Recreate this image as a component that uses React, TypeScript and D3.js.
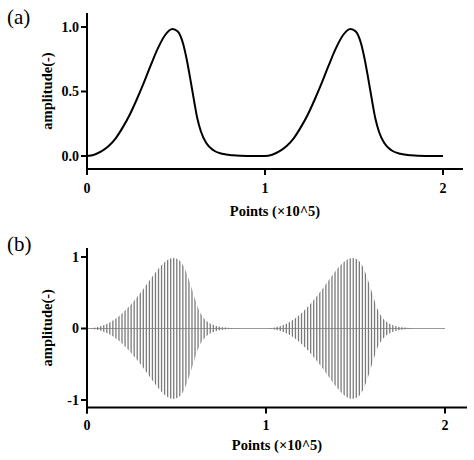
import React from 'react';
import * as d3 from 'd3';

// envelope, x in units of 10^5 points
const pointsX = [
  0, 0.04, 0.08, 0.12, 0.16, 0.2, 0.24, 0.28, 0.32, 0.36, 0.4, 0.44, 0.48, 0.51, 0.54, 0.56, 0.58, 0.6, 0.62, 0.64, 0.67, 0.71, 0.76, 0.82, 0.9, 1.0,
  1.04, 1.08, 1.12, 1.16, 1.2, 1.24, 1.28, 1.32, 1.36, 1.4, 1.44, 1.48, 1.51, 1.54, 1.56, 1.58, 1.6, 1.62, 1.64, 1.67, 1.71, 1.76, 1.82, 1.9, 2.0,
];
const amplitude = [
  0, 0.01, 0.035, 0.075, 0.135, 0.22, 0.32, 0.44, 0.57, 0.71, 0.84, 0.94, 0.985, 0.965, 0.87, 0.75, 0.6, 0.44, 0.29, 0.19, 0.1, 0.045, 0.017, 0.005, 0, 0,
  0.01, 0.035, 0.075, 0.135, 0.22, 0.32, 0.44, 0.57, 0.71, 0.84, 0.94, 0.985, 0.965, 0.87, 0.75, 0.6, 0.44, 0.29, 0.19, 0.1, 0.045, 0.017, 0.005, 0, 0,
];

// carrier period of panel (b), in 10^5 points
const carrierStep = 0.017;

const xTicks = [0, 1, 2];
const xTickLabels = ['0', '1', '2'];
const yTicksA = [0, 0.5, 1];
const yTickLabelsA = ['0.0', '0.5', '1.0'];
const yTicksB = [-1, 0, 1];
const yTickLabelsB = ['-1', '0', '1'];

const xTitle = 'Points (\u00d710^5)';
const yTitle = 'amplitude(-)';

const font = '"Liberation Serif", "DejaVu Serif", serif';

type Pt = { x: number; a: number };
const data: Pt[] = pointsX.map((x, i) => ({ x, a: amplitude[i] }));

interface AxesProps {
  x: d3.ScaleLinear<number, number>;
  y: d3.ScaleLinear<number, number>;
  xAxisY: number;
  xAxisEnd: number;
  yAxisTop: number;
  yTicks: number[];
  yLabels: string[];
  labelY: number;
  titleY: number;
}

function Axes({ x, y, xAxisY, xAxisEnd, yAxisTop, yTicks, yLabels, labelY, titleY }: AxesProps) {
  const x0 = x(0);
  const midY = (yAxisTop + xAxisY) / 2;
  return (
    <g style={{ fontFamily: font, fontWeight: 700 }} fill="#000">
      <line x1={x0} x2={xAxisEnd} y1={xAxisY} y2={xAxisY} stroke="#000" strokeWidth={2} />
      <line x1={x0} x2={x0} y1={yAxisTop} y2={xAxisY + 6} stroke="#000" strokeWidth={2} />
      {xTicks.map((t, i) => (
        <g key={t}>
          <line x1={x(t)} x2={x(t)} y1={xAxisY} y2={xAxisY + 6} stroke="#000" strokeWidth={2} />
          <text x={x(t)} y={labelY} textAnchor="middle" fontSize={14}>{xTickLabels[i]}</text>
        </g>
      ))}
      {yTicks.map((t, i) => (
        <g key={t}>
          <line x1={x0 - 6} x2={x0} y1={y(t)} y2={y(t)} stroke="#000" strokeWidth={2} />
          <text x={x0 - 8} y={y(t)} dy="0.34em" textAnchor="end" fontSize={14}>{yLabels[i]}</text>
        </g>
      ))}
      <text x={(x0 + xAxisEnd) / 2} y={titleY} textAnchor="middle" fontSize={14.5}>{xTitle}</text>
      <text transform={`translate(52,${midY}) rotate(-90)`} textAnchor="middle" fontSize={14.5}>{yTitle}</text>
    </g>
  );
}

export default function App() {
  // panel (a)
  const xA = d3.scaleLinear().domain([0, 2]).range([87, 443]);
  const yA = d3.scaleLinear().domain([0, 1]).range([156, 27]);
  const lineA = d3.line<Pt>().x(d => xA(d.x)).y(d => yA(d.a)).curve(d3.curveMonotoneX);

  // panel (b)
  const xB = d3.scaleLinear().domain([0, 2]).range([87, 445]);
  const yB = d3.scaleLinear().domain([-1, 1]).range([400, 257]);
  const envB = d3.area<Pt>().x(d => xB(d.x)).y0(d => yB(-d.a)).y1(d => yB(d.a)).curve(d3.curveMonotoneX);
  const carrier = d3.range(carrierStep / 2, 2, carrierStep);

  return (
    <svg width={474} height={460} style={{ position: 'absolute', left: 0, top: 0, background: '#fff' }}>
      <defs>
        <clipPath id="env-b">
          <path d={envB(data) ?? ''} />
        </clipPath>
      </defs>

      <text x={7} y={24} style={{ fontFamily: font }} fontSize={21}>(a)</text>
      <path d={lineA(data) ?? ''} fill="none" stroke="#000" strokeWidth={2} />
      <Axes x={xA} y={yA} xAxisY={169} xAxisEnd={463} yAxisTop={13}
        yTicks={yTicksA} yLabels={yTickLabelsA} labelY={193} titleY={216} />

      <text x={7} y={251} style={{ fontFamily: font }} fontSize={21}>(b)</text>
      <line x1={xB(0)} x2={xB(2)} y1={yB(0)} y2={yB(0)} stroke="#9a9a9a" strokeWidth={1} />
      <g clipPath="url(#env-b)">
        {carrier.map(c => (
          <line key={c} x1={xB(c)} x2={xB(c)} y1={yB(1.05)} y2={yB(-1.05)} stroke="#7a7a7a" strokeWidth={1.3} />
        ))}
      </g>
      <Axes x={xB} y={yB} xAxisY={407.5} xAxisEnd={467} yAxisTop={248}
        yTicks={yTicksB} yLabels={yTickLabelsB} labelY={430} titleY={450} />
    </svg>
  );
}
